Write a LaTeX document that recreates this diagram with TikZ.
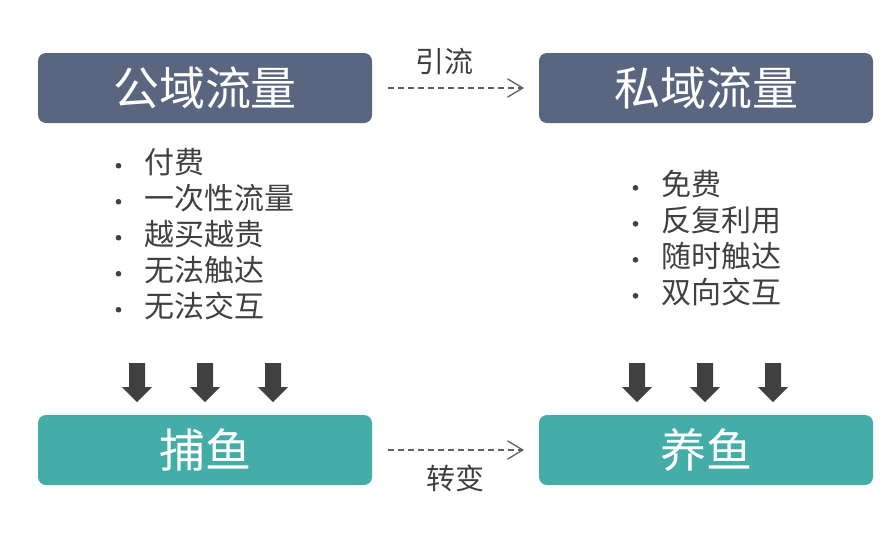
\documentclass[tikz,border=0pt]{standalone}
\usepackage{fontspec}
\setmainfont{Noto Sans CJK SC}
\definecolor{slate}{HTML}{5A6680}
\definecolor{teal2}{HTML}{45ADA8}
\definecolor{txt}{HTML}{404040}
\definecolor{dash}{HTML}{606060}
\tikzset{
  bigbox/.style={rounded corners=8pt, minimum width=334pt, minimum height=70pt, inner sep=0pt, text=white, font=\fontsize{46}{50}\selectfont},
  topbox/.style={bigbox, fill=slate},
  botbox/.style={bigbox, fill=teal2},
  flow/.style={draw=dash, line width=1.1pt, dash pattern=on 6pt off 4pt},
  barb/.style={draw=dash, line width=1.3pt, line cap=round, line join=miter},
  lbl/.style={text=txt, font=\fontsize{29}{32}\selectfont, inner sep=0pt},
  blist/.style={text=txt, font=\fontsize{30}{36}\selectfont, inner sep=0pt, anchor=north west, align=left},
  blk/.style={fill=txt, draw=none}
}
\newcommand{\bdot}{\makebox[29pt][l]{\raisebox{0.3ex}{\tikz\fill (0,0) circle (2.8pt);}}}
\begin{document}
\begin{tikzpicture}[x=1pt,y=-1pt]
\useasboundingbox (0,0) rectangle (895,547);
\node[topbox] (pub) at (205,88) {公域流量};
\node[topbox] (pri) at (706,88) {私域流量};
\node[botbox] (catch) at (205,450) {捕鱼};
\node[botbox] (raise) at (706,450) {养鱼};
\coordinate (a1s) at ([xshift=16pt]pub.east);
\coordinate (a1e) at ([xshift=-16pt]pri.west);
\coordinate (a2s) at ([xshift=16pt]catch.east);
\coordinate (a2e) at ([xshift=-16pt]raise.west);
\draw[flow] (a1s) -- (a1e);
\draw[flow] (a2s) -- (a2e);
\draw[barb] (a1e) ++(-15,-9) -- (a1e) -- ++(-15,9);
\draw[barb] (a2e) ++(-15,-9) -- (a2e) -- ++(-15,9);
\node[lbl] (l1) at (444,61) {引流};
\node[lbl] (l2) at (455,478) {转变};
\node[blist] (left) at (115.5,148) {\bdot 付费\\ \bdot 一次性流量\\ \bdot 越买越贵\\ \bdot 无法触达\\ \bdot 无法交互};
\node[blist] (right) at (632.5,170) {\bdot 免费\\ \bdot 反复利用\\ \bdot 随时触达\\ \bdot 双向交互};
\foreach \x in {137,205,273,637,705,773}{
  \fill[blk] (\x-8,363) -- (\x+8,363) -- (\x+8,387) -- (\x+15,387) -- (\x,402) -- (\x-15,387) -- (\x-8,387) -- cycle;
}
\end{tikzpicture}
\end{document}
